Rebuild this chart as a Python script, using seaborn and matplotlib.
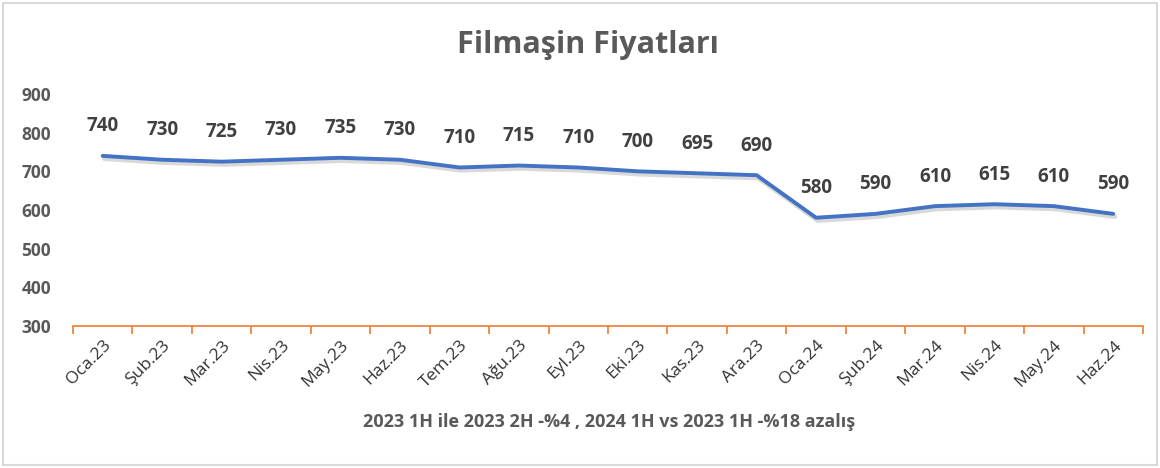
import matplotlib
matplotlib.use("Agg")
import matplotlib.pyplot as plt
import matplotlib.patheffects as pe
import numpy as np
import pandas as pd
import seaborn as sns

months = ["Oca.23", "Şub.23", "Mar.23", "Nis.23", "May.23", "Haz.23",
          "Tem.23", "Ağu.23", "Eyl.23", "Eki.23", "Kas.23", "Ara.23",
          "Oca.24", "Şub.24", "Mar.24", "Nis.24", "May.24", "Haz.24"]
prices = [740, 730, 725, 730, 735, 730, 710, 715, 710, 700, 695, 690,
          580, 590, 610, 615, 610, 590]
yticks = [300, 400, 500, 600, 700, 800, 900]
title = "Filmaşin Fiyatları"
note = "2023 1H ile 2023 2H -%4 , 2024 1H vs 2023 1H -%18 azalış"

sns.set_theme(style="white")
plt.rcParams["font.family"] = ["Open Sans", "DejaVu Sans"]

df = pd.DataFrame({"pos": np.arange(len(months)), "price": prices})

fig = plt.figure(figsize=(11.6, 4.68), dpi=100)
ax = fig.add_axes([73 / 1160, 1 - 326 / 468, (1143 - 73) / 1160, (326 - 94) / 468])

sns.lineplot(data=df, x="pos", y="price", ax=ax, color="#4472C4", linewidth=2.8,
             solid_capstyle="round",
             path_effects=[pe.SimpleLineShadow(offset=(1.2, -2.0), alpha=0.15,
                                               shadow_color="black", linewidth=3.5),
                           pe.Normal()])

for x, v in zip(df["pos"], df["price"]):
    ax.annotate(f"{v}", (x, v), xytext=(0, 14), textcoords="offset points",
                ha="center", va="bottom", fontsize=13.5, fontweight="bold", color="#404040")

ax.set_xlim(-0.5, len(months) - 0.5)
ax.set_ylim(300, 900)
ax.set_yticks(yticks)
ax.set_yticklabels([str(t) for t in yticks], fontsize=12.5, fontweight="bold", color="#595959")
ax.set_xticks(df["pos"])
ax.set_xticklabels(months, rotation=45, ha="right", rotation_mode="anchor",
                   fontsize=12.5, color="#333333")
ax.set_xticks(np.arange(-0.5, len(months), 1), minor=True)
ax.tick_params(axis="x", which="major", bottom=True, length=0, pad=8)
ax.tick_params(axis="x", which="minor", bottom=True, length=6, width=1.2,
               color="#ED7D31", direction="out")
ax.tick_params(axis="y", length=0, pad=37)
for t in ax.get_yticklabels():
    t.set_horizontalalignment("left")

for s in ["top", "right", "left"]:
    ax.spines[s].set_visible(False)
ax.spines["bottom"].set_color("#ED7D31")
ax.spines["bottom"].set_linewidth(1.2)
ax.grid(False)
ax.set_xlabel("")
ax.set_ylabel("")

fig.text(588 / 1160, 1 - 45 / 468, title, ha="center", va="center", fontsize=22,
         fontweight="bold", color="#595959")
fig.text(609 / 1160, 1 - 422 / 468, note, ha="center", va="center", fontsize=13,
         fontweight="bold", color="#595959")

fig.patches.append(plt.Rectangle((3 / 1160, 3 / 468), 1 - 6 / 1160, 1 - 6 / 468,
                                 transform=fig.transFigure, fill=False,
                                 edgecolor="#D9D9D9", linewidth=1.5))

fig.savefig("out.png", dpi=100, facecolor="white")
